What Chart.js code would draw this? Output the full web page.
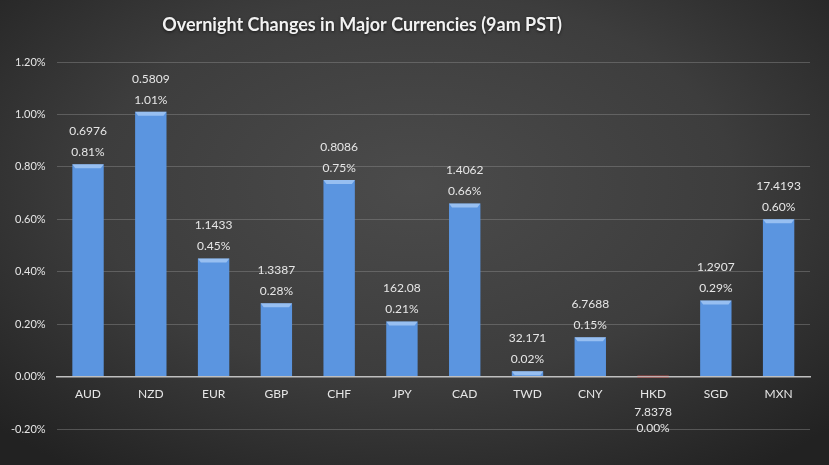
<!DOCTYPE html>
<html>
<head>
<meta charset="utf-8">
<script src="https://cdn.jsdelivr.net/npm/chart.js@4/dist/chart.umd.min.js"></script>
<style>
  html, body { margin: 0; padding: 0; }
  body {
    width: 829px; height: 465px; overflow: hidden;
    background: radial-gradient(ellipse 70% 75% at 50% 40%, #4b4b4b 0%, #3d3d3d 55%, #222 100%);
  }
  #wrap { position: relative; width: 829px; height: 465px; }
</style>
</head>
<body>
<div id="wrap"><canvas id="chart"></canvas></div>
<script>
const TITLE = 'Overnight Changes in Major Currencies (9am PST)';
const currencies = ['AUD', 'NZD', 'EUR', 'GBP', 'CHF', 'JPY', 'CAD', 'TWD', 'CNY', 'HKD', 'SGD', 'MXN'];
const rates = ['0.6976', '0.5809', '1.1433', '1.3387', '0.8086', '162.08', '1.4062', '32.171', '6.7688', '7.8378', '1.2907', '17.4193'];
const changes = [0.81, 1.01, 0.45, 0.28, 0.75, 0.21, 0.66, 0.02, 0.15, -0.004, 0.29, 0.60];
const yTicks = [-0.2, 0, 0.2, 0.4, 0.6, 0.8, 1.0, 1.2];

const FONT = 'Lato, "Open Sans", sans-serif';
const TEXT = '#e6e6e6';

// horizontal shading for the bars, darker on the sides
function barFill(ctx) {
    const el = ctx.element;
    const c = ctx.chart.ctx;
    const neg = changes[ctx.dataIndex] < 0;
    if (!el || el.x === undefined) return neg ? '#c0504d' : '#5b95e0';
    const w = el.width || 30;
    const g = c.createLinearGradient(el.x - w / 2, 0, el.x + w / 2, 0);
    if (neg) {
        g.addColorStop(0, '#b04441'); g.addColorStop(0.5, '#e05a56'); g.addColorStop(1, '#b04441');
    } else {
        g.addColorStop(0, '#4a7fc6'); g.addColorStop(0.12, '#5b95e0');
        g.addColorStop(0.88, '#5b95e0'); g.addColorStop(1, '#4a7fc6');
    }
    return g;
}

const titlePlugin = {
    id: 'titleText',
    afterDraw(chart) {
        const c = chart.ctx;
        // negative bars sit on the axis line, paint them again on top of it
        const meta = chart.getDatasetMeta(0);
        meta.data.forEach((bar, i) => {
            if (changes[i] < 0) {
                c.save();
                c.translate(0, -1.5);
                bar.draw(c, chart.chartArea);
                c.restore();
            }
        });
        c.save();
        c.font = 'bold 18px ' + FONT;
        c.fillStyle = '#f2f2f2';
        c.textAlign = 'center';
        c.textBaseline = 'middle';
        c.shadowColor = 'rgba(0,0,0,0.6)';
        c.shadowBlur = 3;
        c.shadowOffsetY = 1;
        c.fillText(TITLE, 362, 25);
        c.restore();
    }
};

// bevel highlight on top of each bar plus the two line labels
const barDecor = {
    id: 'barDecor',
    afterDatasetsDraw(chart) {
        const c = chart.ctx;
        const meta = chart.getDatasetMeta(0);
        meta.data.forEach((bar, i) => {
            const w = bar.width;
            const left = bar.x - w / 2, right = bar.x + w / 2;
            const top = Math.min(bar.y, bar.base);
            const h = Math.abs(bar.base - bar.y);
            if (changes[i] > 0 && h > 4) {
                c.save();
                c.fillStyle = 'rgba(200,225,255,0.55)';
                c.beginPath();
                c.moveTo(left, top);
                c.lineTo(right, top);
                c.lineTo(right - 3, top + 4);
                c.lineTo(left + 3, top + 4);
                c.closePath();
                c.fill();
                c.restore();
            }
        });
        c.save();
        c.font = '12px ' + FONT;
        c.fillStyle = TEXT;
        c.textAlign = 'center';
        c.textBaseline = 'middle';
        meta.data.forEach((bar, i) => {
            const v = changes[i];
            const pct = (Math.abs(v) < 0.005 ? 0 : v).toFixed(2) + '%';
            if (v >= 0) {
                c.fillText(pct, bar.x, bar.y - 12);
                c.fillText(rates[i], bar.x, bar.y - 33);
            } else {
                c.fillText(rates[i], bar.x, bar.base + 35);
                c.fillText(pct, bar.x, bar.base + 51);
            }
        });
        c.restore();
    }
};

new Chart(document.getElementById('chart'), {
    type: 'bar',
    data: {
        labels: currencies,
        datasets: [{
            data: changes,
            backgroundColor: barFill,
            borderWidth: 0,
            barPercentage: 0.5,
            categoryPercentage: 1.0
        }]
    },
    options: {
        responsive: true,
        maintainAspectRatio: false,
        animation: false,
        layout: { padding: { top: 62, bottom: 36, right: 19, left: 0 } },
        plugins: {
            legend: { display: false },
            title: { display: false },
            tooltip: { enabled: false }
        },
        scales: {
            x: {
                position: { y: 0 },
                grid: { display: false, drawTicks: false },
                border: { display: true, color: '#bfbfbf', width: 1.5 },
                ticks: { color: TEXT, font: { family: FONT, size: 12 }, padding: 10 }
            },
            y: {
                min: -0.2,
                max: 1.2,
                afterBuildTicks(scale) { scale.ticks = yTicks.map(v => ({ value: v })); },
                grid: { color: 'rgba(140,140,140,0.45)', drawTicks: false },
                border: { display: false },
                ticks: {
                    color: TEXT,
                    font: { family: FONT, size: 11 },
                    padding: 11,
                    callback: v => v.toFixed(2) + '%'
                }
            }
        }
    },
    plugins: [titlePlugin, barDecor]
});
</script>
</body>
</html>
